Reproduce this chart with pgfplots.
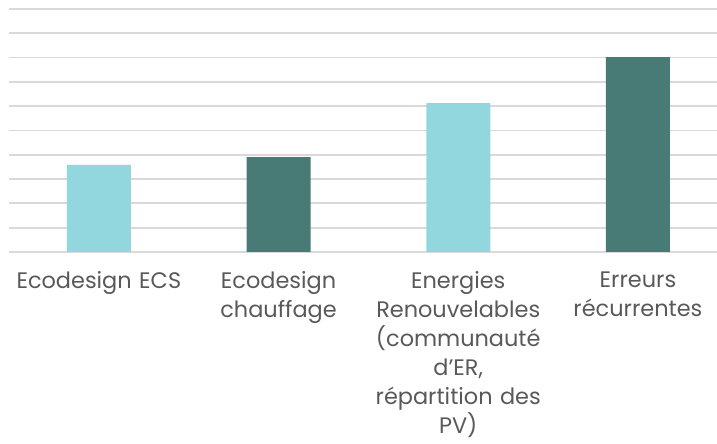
\documentclass[border=0pt]{standalone}
\usepackage{fontspec}
\setmainfont{Poppins}
\usepackage{pgfplots}
\pgfplotsset{compat=1.18}
\definecolor{light}{HTML}{92D7DE}
\definecolor{dark}{HTML}{487A76}
\definecolor{gridc}{HTML}{D9D9D9}
\definecolor{txt}{HTML}{595959}
\begin{document}
\begin{tikzpicture}[x=1bp,y=1bp]
\path[use as bounding box] (0,0) rectangle (717,444);
\begin{axis}[at={(9bp,192bp)}, anchor=south west, scale only axis,
  width=708bp, height=243bp,
  xmin=-0.5, xmax=3.44, ymin=0, ymax=10,
  ytick={0,1,...,10}, yticklabels={},
  ymajorgrids, grid style={gridc, line width=1.8bp},
  axis line style={draw=none}, major tick length=0pt,
  xtick={0,1,2,3},
  xticklabels={{Ecodesign ECS},{Ecodesign\\chauffage},{Energies\\Renouvelables\\(communauté\\d’ER,\\répartition des\\PV)},{Erreurs\\récurrentes}},
  xticklabel style={font=\fontsize{22.5}{29}\selectfont, text=txt, align=center, text width=190bp, anchor=north, yshift=-16bp},
  ybar, bar width=64bp, bar shift=0pt,
]
\addplot[fill=light, draw=none] coordinates {(0,3.58) (2,6.13)};
\addplot[fill=dark, draw=none] coordinates {(1,3.9) (3,8.02)};
\end{axis}
\end{tikzpicture}
\end{document}
